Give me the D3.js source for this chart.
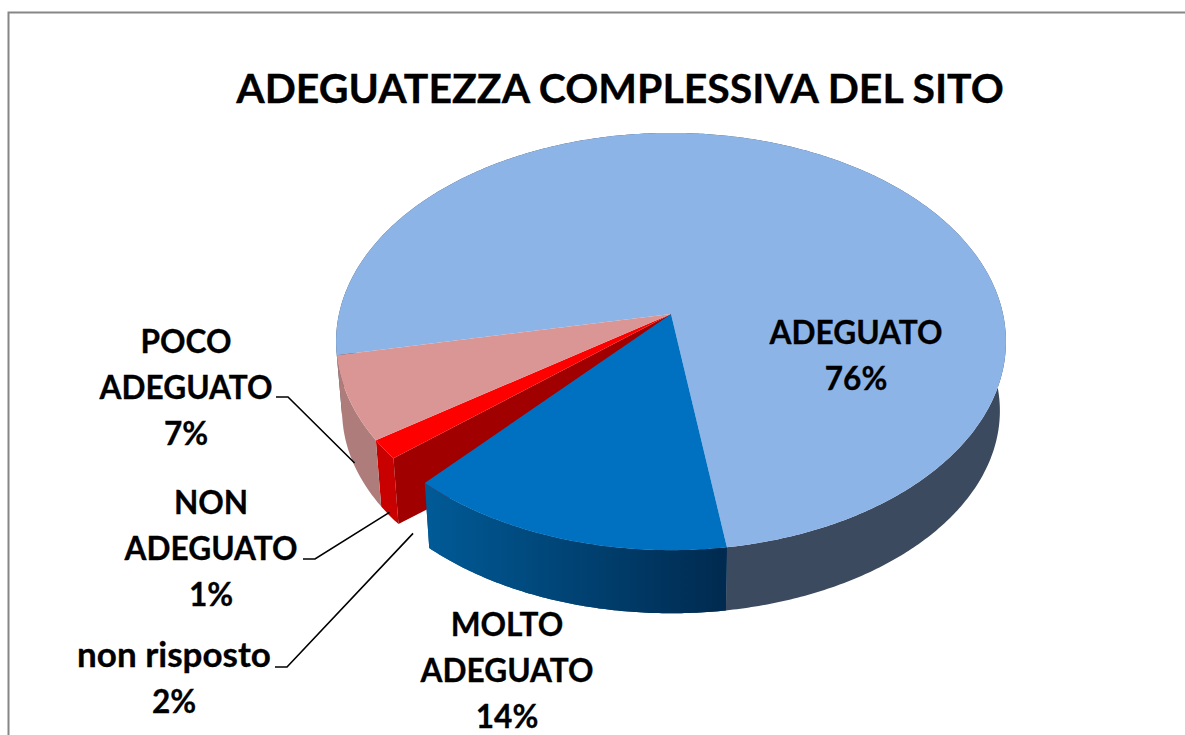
<!DOCTYPE html>
<html>
<head>
<meta charset="utf-8">
<script src="https://cdn.jsdelivr.net/npm/d3@7"></script>
<style>
  html, body { margin: 0; padding: 0; background: #fff; overflow: hidden; }
  text { font-family: Lato, "Open Sans", sans-serif; font-weight: 700; fill: #000; stroke: #000; stroke-width: 0.3px; }
</style>
</head>
<body>
<svg id="chart" width="1185" height="735"></svg>
<script>
const chartTitle = "ADEGUATEZZA COMPLESSIVA DEL SITO";

// slice order follows the picture, clockwise from the top left edge of ADEGUATO
const categories = ["ADEGUATO", "MOLTO ADEGUATO", "non risposto", "NON ADEGUATO", "POCO ADEGUATO"];
const values = [75.8, 14.0, 2.2, 1.5, 6.5];
const percentLabels = ["76%", "14%", "2%", "1%", "7%"];

const labelLines = [
    ["ADEGUATO", "76%"],
    ["MOLTO", "ADEGUATO", "14%"],
    ["non risposto", "2%"],
    ["NON", "ADEGUATO", "1%"],
    ["POCO", "ADEGUATO", "7%"]
];

const topColors = ["#8db4e6", "#0070c0", "none", "#ff0000", "#d99694"];
const rimColors = ["#3b4a5f", "url(#blueSide)", "none", "#c80000", "#ae7d7b"];

const labelPos = [
    {x: 856, y: 344},
    {x: 507, y: 636},
    {x: 174, y: 667},
    {x: 211, y: 514},
    {x: 186, y: 353}
];
const elbows = {
    2: [[275, 667], [287, 667]],
    3: [[303, 559], [315, 559]],
    4: [[276, 397], [288, 397]]
};

const width = 1185, height = 735;
const startDeg = 258.7;
const tilt = 0.132;

// top and bottom faces of the disc, the same perspective for both
const topFace = {cx: 671, cy: 314, rx: 332, ry: 205};
const bottomFace = {cx: 671, cy: 384, rx: 326, ry: 199};

function project(angle, face) {
    const u = Math.sin(angle), v = -Math.cos(angle);
    const w = 1 - tilt * v;
    return [face.cx + face.rx * u / w, face.cy + face.ry * v / w];
}

function arcPoints(a0, a1, face) {
    const n = Math.max(2, Math.ceil(Math.abs(a1 - a0) / 0.01));
    return d3.range(n + 1).map(i => project(a0 + (a1 - a0) * i / n, face));
}

const svg = d3.select("#chart");

const grad = svg.append("defs").append("linearGradient")
    .attr("id", "blueSide")
    .attr("gradientUnits", "userSpaceOnUse")
    .attr("x1", 430).attr("x2", 726).attr("y1", 0).attr("y2", 0);
grad.append("stop").attr("offset", "0%").attr("stop-color", "#005a96");
grad.append("stop").attr("offset", "100%").attr("stop-color", "#002a4f");

// chart frame, runs off the right and bottom of the picture
svg.append("path")
    .attr("d", `M8.5,${height}V12.5H${width}`)
    .attr("fill", "none")
    .attr("stroke", "#868686")
    .attr("stroke-width", 2);

svg.append("text")
    .attr("x", 620)
    .attr("y", 103)
    .attr("text-anchor", "middle")
    .style("font-size", "41px")
    .text(chartTitle);

const pie = d3.pie()
    .sort(null)
    .startAngle(startDeg * Math.PI / 180)
    .endAngle((startDeg + 360) * Math.PI / 180);
const slices = pie(values);

const line = d3.line();

// outer walls
svg.append("g").selectAll("path")
    .data(slices.filter(d => rimColors[d.index] !== "none"))
    .join("path")
    .attr("d", d => line(arcPoints(d.startAngle, d.endAngle, topFace)
        .concat(arcPoints(d.endAngle, d.startAngle, bottomFace))) + "Z")
    .attr("fill", d => rimColors[d.index]);

// the cut face of the red slice shows through the empty non risposto slice
const redSlice = slices[3];
svg.append("path")
    .attr("d", line([
        [topFace.cx, topFace.cy],
        project(redSlice.startAngle, topFace),
        project(redSlice.startAngle, bottomFace),
        [bottomFace.cx, bottomFace.cy],
        [topFace.cx, topFace.cy]
    ]) + "Z")
    .attr("fill", "#a00000");

// blue wall again so it stays in front of the cut face
svg.append("path")
    .attr("d", line(arcPoints(slices[1].startAngle, slices[1].endAngle, topFace)
        .concat(arcPoints(slices[1].endAngle, slices[1].startAngle, bottomFace))) + "Z")
    .attr("fill", rimColors[1]);

// top faces
svg.append("g").selectAll("path")
    .data(slices.filter(d => topColors[d.index] !== "none"))
    .join("path")
    .attr("d", d => line([[topFace.cx, topFace.cy]]
        .concat(arcPoints(d.startAngle, d.endAngle, topFace))) + "Z")
    .attr("fill", d => topColors[d.index]);

// leader lines end on the lower rim at the middle of their slice
svg.append("g").selectAll("path")
    .data(slices.filter(d => elbows[d.index]))
    .join("path")
    .attr("d", d => {
        const end = project((d.startAngle + d.endAngle) / 2, bottomFace);
        return line(elbows[d.index].concat([[end[0], end[1] - 3]]));
    })
    .attr("fill", "none")
    .attr("stroke", "#000")
    .attr("stroke-width", 1.6);

const labels = svg.append("g").selectAll("text")
    .data(labelLines)
    .join("text")
    .attr("text-anchor", "middle")
    .style("font-size", "31.6px")
    .attr("transform", (d, i) => `translate(${labelPos[i].x},${labelPos[i].y})`);

// Lato's lowercase runs small next to the reference, so that one line is larger
labels.selectAll("tspan")
    .data(d => d)
    .join("tspan")
    .attr("x", 0)
    .attr("y", (d, i) => i * 46)
    .style("font-size", d => d === "non risposto" ? "35px" : null)
    .text(d => d);
</script>
</body>
</html>
